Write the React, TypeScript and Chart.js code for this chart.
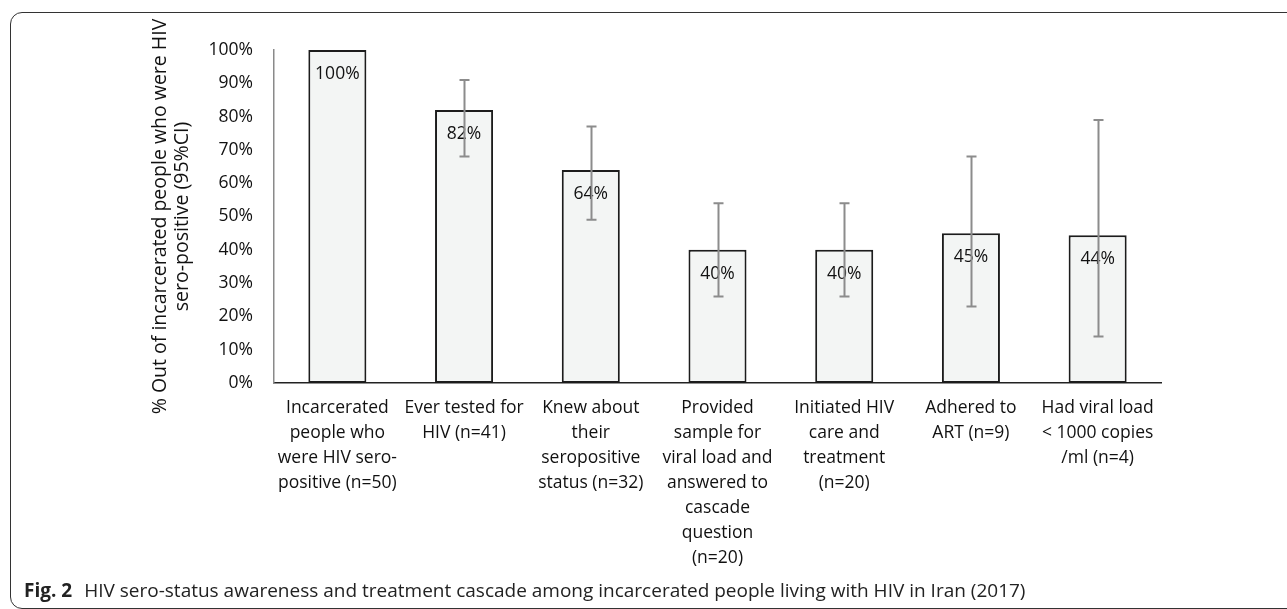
import React, { useEffect, useRef } from 'react';
import { Chart, registerables } from 'chart.js';

Chart.register(...registerables);

const categories: string[][] = [
  ['Incarcerated', 'people who', 'were HIV sero-', 'positive (n=50)'],
  ['Ever tested for', 'HIV (n=41)'],
  ['Knew about', 'their', 'seropositive', 'status (n=32)'],
  ['Provided', 'sample for', 'viral load and', 'answered to', 'cascade', 'question', '(n=20)'],
  ['Initiated HIV', 'care and', 'treatment', '(n=20)'],
  ['Adhered to', 'ART (n=9)'],
  ['Had viral load', '< 1000 copies', '/ml (n=4)'],
];
const values: number[] = [100, 82, 64, 40, 40, 45, 44.4];
const ciLower: (number | null)[] = [null, 68, 49, 26, 26, 23, 14];
const ciUpper: (number | null)[] = [null, 91, 77, 54, 54, 68, 79];
const yMin = 0;
const yMax = 100;
const yStep = 10;
const yTitle: string[] = ['% Out of incarcerated people who were HIV', 'sero-positive (95%CI)'];
const captionBold = 'Fig. 2';
const captionText =
  'HIV sero-status awareness and treatment cascade among incarcerated people living with HIV in Iran (2017)';

const FONT = '"Open Sans", "DejaVu Sans", sans-serif';

const overlayPlugin = {
  id: 'overlay',
  afterDatasetsDraw(chart: any) {
    const ctx = chart.ctx;
    const yScale = chart.scales.y;
    const meta = chart.getDatasetMeta(0);
    ctx.save();
    ctx.font = `17.5px ${FONT}`;
    ctx.fillStyle = '#111111';
    ctx.textAlign = 'center';
    ctx.textBaseline = 'middle';
    meta.data.forEach((bar: any, i: number) => {
      ctx.fillText(`${Math.round(values[i])}%`, bar.x, bar.y + 24);
    });
    ctx.strokeStyle = '#8c8c8c';
    ctx.lineWidth = 2;
    meta.data.forEach((bar: any, i: number) => {
      const lo = ciLower[i];
      const hi = ciUpper[i];
      if (lo == null || hi == null) return;
      const yl = yScale.getPixelForValue(lo);
      const yh = yScale.getPixelForValue(hi);
      const x = Math.round(bar.x) + 0.5;
      ctx.beginPath();
      ctx.moveTo(x, yl);
      ctx.lineTo(x, yh);
      ctx.moveTo(x - 5, yl);
      ctx.lineTo(x + 5, yl);
      ctx.moveTo(x - 5, yh);
      ctx.lineTo(x + 5, yh);
      ctx.stroke();
    });
    ctx.restore();
  },
};

export default function App() {
  const ref = useRef<HTMLCanvasElement>(null);
  useEffect(() => {
    const chart = new Chart(ref.current as HTMLCanvasElement, {
      type: 'bar',
      data: {
        labels: categories,
        datasets: [
          {
            data: values,
            backgroundColor: '#F3F5F4',
            borderColor: '#1c1c1c',
            borderWidth: 2,
            borderSkipped: false,
            barPercentage: 0.458,
            categoryPercentage: 1,
          },
        ],
      },
      options: {
        animation: false,
        responsive: true,
        maintainAspectRatio: false,
        events: [],
        layout: { padding: { left: 138, top: 50, right: 126, bottom: 0 } },
        plugins: {
          legend: { display: false },
          tooltip: { enabled: false },
        },
        scales: {
          x: {
            grid: { display: false, drawTicks: false },
            border: { display: true, color: '#222222', width: 1.5 },
            ticks: {
              color: '#111111',
              font: { family: FONT, size: 17.5, lineHeight: 25 / 17.5 },
              padding: 13,
              maxRotation: 0,
              minRotation: 0,
              autoSkip: false,
            },
            afterFit: (scale: any) => {
              scale.height = 226;
            },
          },
          y: {
            min: yMin,
            max: yMax,
            grid: { display: false, drawTicks: false },
            border: { display: true, color: '#8a8a8a', width: 1.5 },
            ticks: {
              stepSize: yStep,
              color: '#111111',
              font: { family: FONT, size: 17.5 },
              padding: 21,
              callback: (v: any) => `${v}%`,
            },
            title: {
              display: true,
              text: yTitle,
              color: '#111111',
              font: { family: FONT, size: 19.5, lineHeight: 22 / 19.5 },
              padding: { top: 11, bottom: 0 },
            },
            afterFit: (scale: any) => {
              scale.width = 136;
            },
          },
        },
      },
      plugins: [overlayPlugin],
    });
    return () => chart.destroy();
  }, []);

  return (
    <div
      style={{
        position: 'absolute',
        left: 0,
        top: 0,
        width: 1287,
        height: 609,
        overflow: 'hidden',
        background: '#ffffff',
      }}
    >
      <div
        style={{
          position: 'absolute',
          left: 10,
          top: 12,
          width: 1320,
          height: 597,
          border: '1.5px solid #333333',
          borderRadius: 12,
          boxSizing: 'border-box',
        }}
      />
      <div style={{ position: 'absolute', left: 0, top: 0, width: 1287, height: 609 }}>
        <canvas ref={ref} />
      </div>
      <div
        style={{
          position: 'absolute',
          left: 24,
          top: 578,
          font: `19px ${FONT}`,
          color: '#222222',
          whiteSpace: 'nowrap',
          lineHeight: '24px',
        }}
      >
        <b>{captionBold}</b>
        <span style={{ marginLeft: 12 }}>{captionText}</span>
      </div>
    </div>
  );
}
